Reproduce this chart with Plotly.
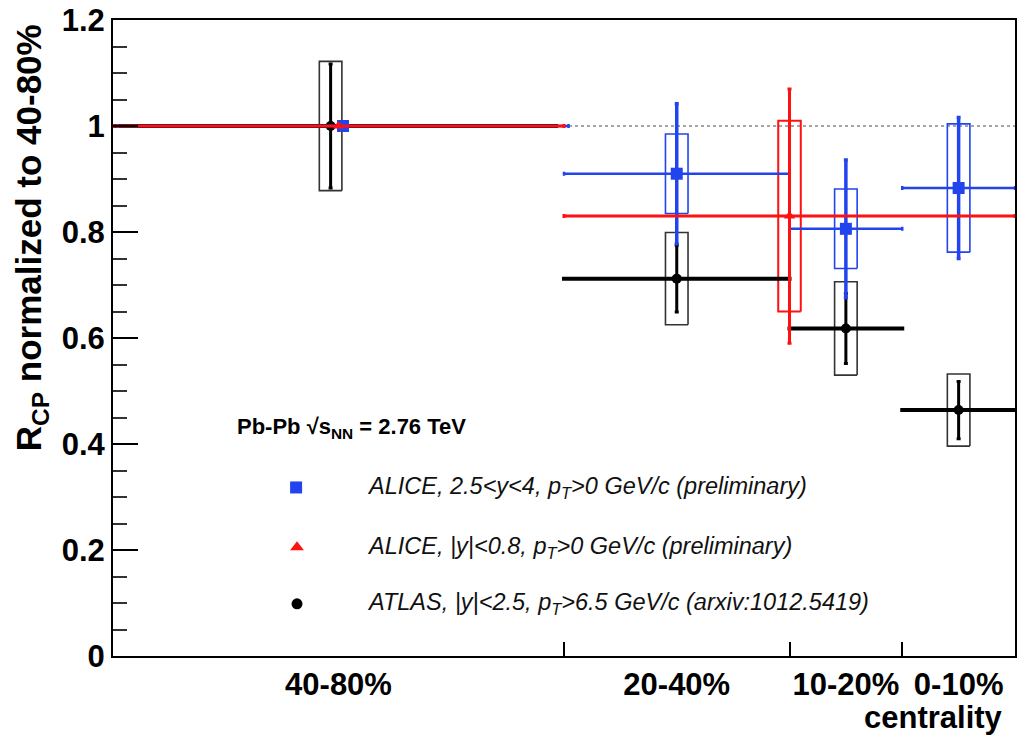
import plotly.graph_objects as go

# Centrality bins (percent); x axis runs from 80% (left) to 0% (right)
bin_labels = ["40-80%", "20-40%", "10-20%", "0-10%"]
bin_centers = [60, 30, 15, 5]
bin_edges_inner = [40, 20, 10]

# ALICE, 2.5<y<4 (forward)
fwd_x = [59.6, 30, 15, 5]
fwd_xerr = [20, 10, 5, 5]
fwd_y = [1.0, 0.910, 0.806, 0.883]
fwd_stat = [0.0, 0.132, 0.130, 0.133]
fwd_syst = [0.0, 0.075, 0.075, 0.121]

# ALICE, |y|<0.8 (mid-rapidity), 0-40% vs 40-80%
mid_x = [60, 20]
mid_xerr = [20, 20]
mid_y = [1.0, 0.830]
mid_stat = [0.0, 0.240]
mid_syst = [0.0, 0.180]

# ATLAS, |y|<2.5, pT>6.5 GeV/c
atl_x = [60.7, 30, 15, 5]
atl_xerr = [20, 10, 5, 5]
atl_y = [1.0, 0.712, 0.618, 0.464]
atl_stat = [0.117, 0.063, 0.066, 0.054]
atl_syst = [0.122, 0.087, 0.088, 0.068]

BOX_HALF_WIDTH = 1.0

BLUE = "#2244ee"
RED = "#ff1111"
BLACK = "#000000"

legend_texts = [
    "<i>ALICE, 2.5&lt;y&lt;4, p<sub>T</sub>&gt;0 GeV/c (preliminary)</i>",
    "<i>ALICE, |y|&lt;0.8, p<sub>T</sub>&gt;0 GeV/c (preliminary)</i>",
    "<i>ATLAS, |y|&lt;2.5, p<sub>T</sub>&gt;6.5 GeV/c (arxiv:1012.5419)</i>",
]
legend_symbols = ["square", "triangle-up", "circle"]
legend_colors = [BLUE, RED, BLACK]
legend_marker_sizes = [12, 12, 11]
legend_key_x = [0.203, 0.204, 0.204]
legend_row_y = [0.265, 0.171, 0.082]
legend_text_x = 0.279

fig = go.Figure()


def add_syst_boxes(xs, ys, syst, color, width):
    for x, y, s in zip(xs, ys, syst):
        if s <= 0:
            continue
        x0, x1 = x - BOX_HALF_WIDTH, x + BOX_HALF_WIDTH
        fig.add_trace(go.Scatter(
            x=[x0, x1, x1, x0, x0],
            y=[y - s, y - s, y + s, y + s, y - s],
            mode="lines", line=dict(color=color, width=width),
            showlegend=False, hoverinfo="skip"))


add_syst_boxes(atl_x, atl_y, atl_syst, "#333333", 1.6)
add_syst_boxes(fwd_x, fwd_y, fwd_syst, BLUE, 1.6)
add_syst_boxes(mid_x, mid_y, mid_syst, RED, 2)


def add_points(xs, ys, xerr, yerr, color, symbol, size, tx, ty):
    fig.add_trace(go.Scatter(
        x=xs, y=ys, mode="markers",
        marker=dict(symbol=symbol, size=size, color=color),
        error_x=dict(type="data", array=xerr, color=color, thickness=tx, width=2),
        error_y=dict(type="data", array=yerr, color=color, thickness=ty, width=2),
        showlegend=False))


add_points(atl_x, atl_y, atl_xerr, atl_stat, BLACK, "circle", 10, 4, 3)
add_points(fwd_x, fwd_y, fwd_xerr, fwd_stat, BLUE, "square", 12, 2.5, 3.5)
add_points(mid_x, mid_y, mid_xerr, mid_stat, RED, "triangle-up", 10, 3, 3)

# Legend keys on an overlay axis spanning the plot area in [0, 1]
for sx, sy, sym, col, sz in zip(legend_key_x, legend_row_y, legend_symbols,
                                legend_colors, legend_marker_sizes):
    fig.add_trace(go.Scatter(
        x=[sx], y=[sy], xaxis="x2", yaxis="y2", mode="markers",
        marker=dict(symbol=sym, size=sz, color=col),
        showlegend=False, hoverinfo="skip"))

annotations = []
for txt, ty in zip(legend_texts, legend_row_y):
    annotations.append(dict(
        text=txt, x=legend_text_x, y=ty, xref="paper", yref="paper",
        xanchor="left", yanchor="middle", showarrow=False,
        font=dict(family="Liberation Sans", size=23.5, color="#111111")))

annotations.append(dict(
    text="Pb-Pb \u221as<sub>NN</sub> = 2.76 TeV", x=0.135, y=0.358,
    xref="paper", yref="paper", xanchor="left", yanchor="middle",
    showarrow=False,
    font=dict(family="Liberation Sans", size=22, color="#000000", weight="bold")))

annotations.append(dict(
    text="R<sub>CP</sub> normalized to 40-80%", textangle=-90,
    x=-0.09, y=0.997, xref="paper", yref="paper",
    xanchor="center", yanchor="top", showarrow=False,
    font=dict(family="Liberation Sans", size=35, color="#000000", weight="bold")))

annotations.append(dict(
    text="centrality", x=0.989, y=-0.096, xref="paper", yref="paper",
    xanchor="right", yanchor="middle", showarrow=False,
    font=dict(family="Liberation Sans", size=31, color="#000000", weight="bold")))

fig.update_layout(
    width=1028, height=738,
    margin=dict(l=113, r=13, t=20, b=82),
    paper_bgcolor="white", plot_bgcolor="white",
    showlegend=False,
    annotations=annotations,
    shapes=[dict(type="line", xref="paper", yref="y", x0=0, x1=1, y0=1, y1=1,
                 line=dict(color="#888888", width=1.5, dash="dot"), layer="below")],
    xaxis=dict(
        range=[80, 0], showgrid=False, zeroline=False, automargin=False,
        showline=True, linecolor="black", linewidth=2, mirror=True,
        tickmode="array", tickvals=bin_centers, ticktext=bin_labels, ticks="",
        tickfont=dict(family="Liberation Sans", size=31, color="black", weight="bold"),
        minor=dict(tickmode="array", tickvals=bin_edges_inner, ticks="inside",
                   ticklen=14, tickwidth=1.5, tickcolor="black", showgrid=False),
    ),
    yaxis=dict(
        range=[0, 1.2], showgrid=False, zeroline=False, automargin=False,
        showline=True, linecolor="black", linewidth=2, mirror=True,
        dtick=0.2, tick0=0, ticks="inside", ticklen=25, tickwidth=1.5, tickcolor="black",
        tickfont=dict(family="Liberation Sans", size=31, color="black", weight="bold"),
        minor=dict(dtick=0.05, ticks="inside", ticklen=14, tickwidth=1.5,
                   tickcolor="#333333", showgrid=False),
    ),
    xaxis2=dict(overlaying="x", range=[0, 1], visible=False, fixedrange=True),
    yaxis2=dict(overlaying="y", range=[0, 1], visible=False, fixedrange=True),
)

fig.write_html("out.html")
